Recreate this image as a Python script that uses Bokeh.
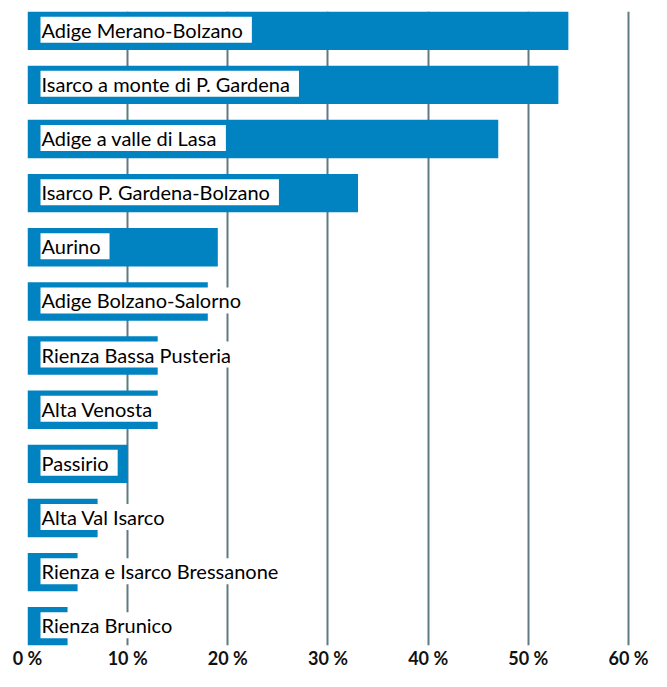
from bokeh.plotting import figure
from bokeh.models import Range1d, ColumnDataSource, FixedTicker
from bokeh.core.properties import value
from bokeh.embed import file_html
from bokeh.resources import INLINE

categories = [
    "Adige Merano-Bolzano",
    "Isarco a monte di P. Gardena",
    "Adige a valle di Lasa",
    "Isarco P. Gardena-Bolzano",
    "Aurino",
    "Adige Bolzano-Salorno",
    "Rienza Bassa Pusteria",
    "Alta Venosta",
    "Passirio",
    "Alta Val Isarco",
    "Rienza e Isarco Bressanone",
    "Rienza Brunico",
]
values = [54, 53, 47, 33, 19, 18, 13, 13, 10, 7, 5, 4]
ticks = [0, 10, 20, 30, 40, 50, 60]
tick_labels = {t: f"{t} %" for t in ticks}

n = len(categories)
ypos = [n - 1 - i for i in range(n)]
src = ColumnDataSource(dict(cat=categories, val=values, y=ypos, x0=[0] * n))

p = figure(width=651, height=671, output_backend="svg", toolbar_location=None,
           x_range=Range1d(0, 62.3), y_range=Range1d(-0.355, n - 1 + 0.355),
           y_axis_location=None, min_border_left=27, min_border_right=0,
           min_border_top=11, min_border_bottom=19)
p.outline_line_color = None
p.background_fill_color = "white"
p.border_fill_color = "white"

p.ygrid.visible = False
p.xgrid.ticker = FixedTicker(ticks=[10, 20, 30, 40, 50, 60])
p.xgrid.grid_line_color = "#5f7a80"
p.xgrid.grid_line_width = 2

p.hbar(y="y", left="x0", right="val", height=0.71, source=src,
       fill_color="#0083c0", line_color=None)

p.text(x="x0", y="y", text="cat", source=src, x_offset=13, y_offset=-1,
       text_font=value("Lato"), text_font_size="20px", text_color="#000000",
       text_align="left", text_baseline="middle",
       background_fill_color="white", padding=(1, 9, 1, 1))

ax = p.xaxis[0]
ax.ticker = FixedTicker(ticks=ticks)
ax.major_label_overrides = tick_labels
ax.axis_line_color = None
ax.major_tick_line_color = None
ax.minor_tick_line_color = None
ax.major_tick_out = 0
ax.major_tick_in = 0
ax.major_label_standoff = 1
ax.major_label_text_font = "Lato"
ax.major_label_text_font_style = "bold"
ax.major_label_text_font_size = "18px"
ax.major_label_text_color = "#111111"

open("out.html", "w").write(file_html(p, INLINE))
